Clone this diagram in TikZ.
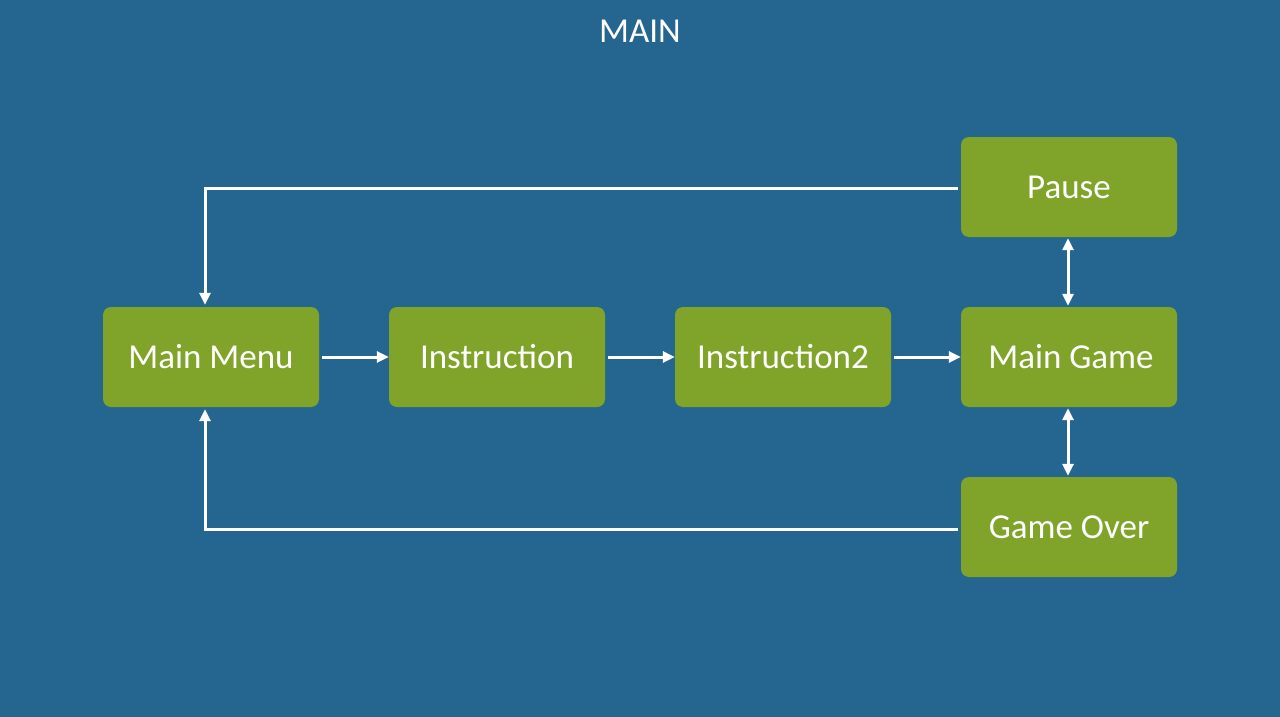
\documentclass[tikz,border=0pt]{standalone}
\usepackage{fontspec}
\setmainfont{Carlito}
\usetikzlibrary{arrows.meta}
\definecolor{bgblue}{HTML}{256690}
\definecolor{boxgreen}{HTML}{80A42A}
\begin{document}
\begin{tikzpicture}[x=1pt,y=-1pt,
  stbox/.style={fill=boxgreen,rounded corners=8pt,minimum width=216pt,minimum height=100pt,
    text=white,font=\fontsize{35}{42}\selectfont,inner sep=0pt},
  arr/.style={draw=white,line width=3pt,-{Triangle[length=12pt,width=11pt]}},
  darr/.style={draw=white,line width=3pt,{Triangle[length=12pt,width=11pt]}-{Triangle[length=12pt,width=11pt]}}]
\fill[bgblue] (0,0) rectangle (1280,717);
\useasboundingbox (0,0) rectangle (1280,717);
\node[text=white,font=\fontsize{35}{42}\selectfont] (title) at (640,31) {MAIN};
\node[stbox] (mm) at (211,357) {Main Menu};
\node[stbox] (ins) at (497,357) {Instruction};
\node[stbox] (ins2) at (783,357) {Instruction2};
\node[stbox] (mg) at (1069,357) {\hspace{4pt}Main Game};
\node[stbox] (pause) at (1069,187) {Pause};
\node[stbox] (go) at (1069,527) {Game Over};
\draw[arr,shorten <=3pt] (mm) -- (ins);
\draw[arr,shorten <=3pt] (ins) -- (ins2);
\draw[arr,shorten <=3pt] (ins2) -- (mg);
\draw[darr,shorten <=1pt,shorten >=1pt] ([xshift=-1pt]pause.south) -- ([xshift=-1pt]mg.north);
\draw[darr,shorten <=1pt,shorten >=1pt] ([xshift=-1pt]mg.south) -- ([xshift=-1pt]go.north);
\draw[arr,shorten <=3pt,shorten >=2pt] ([yshift=-1pt]pause.west) -| ([xshift=-6pt]mm.north);
\draw[arr,shorten <=3pt,shorten >=2pt] ([yshift=-2pt]go.west) -| ([xshift=-6pt]mm.south);
\end{tikzpicture}
\end{document}
